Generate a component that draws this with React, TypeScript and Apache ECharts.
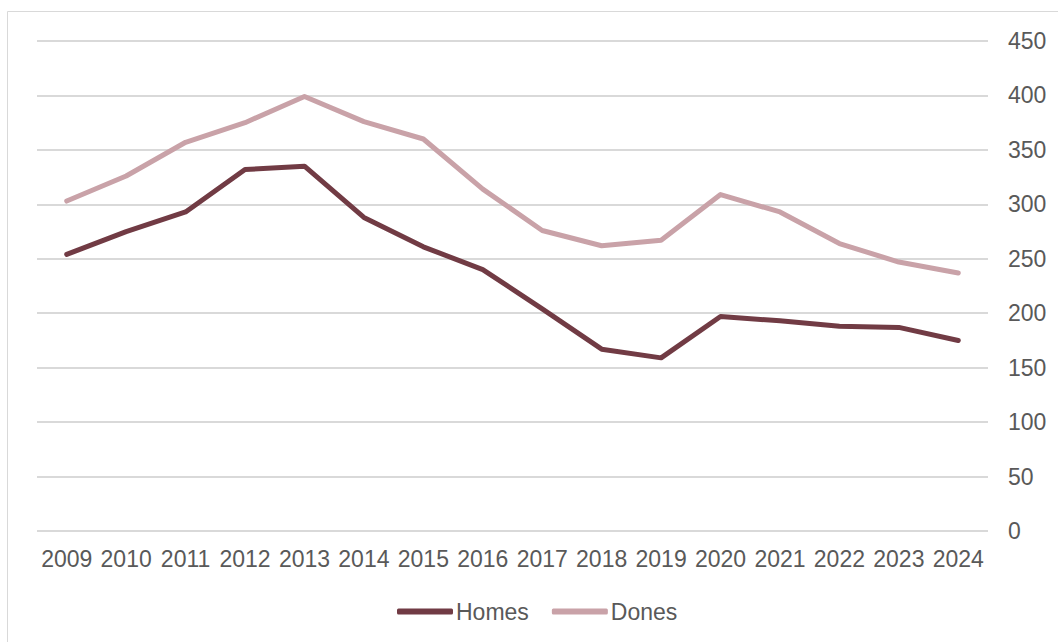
import React, { useEffect, useRef } from "react";
import * as echarts from "echarts";

const years = ["2009","2010","2011","2012","2013","2014","2015","2016","2017","2018","2019","2020","2021","2022","2023","2024"];
const homes = [254, 275, 293, 332, 335, 288, 261, 240, 204, 167, 159, 197, 193, 188, 187, 175];
const dones = [303, 326, 357, 375, 399, 376, 360, 314, 276, 262, 267, 309, 293, 264, 247, 237];
const yTicks = { min: 0, max: 450, interval: 50 };

const FONT = "'Liberation Sans', Arial, sans-serif";

export default function App() {
  const ref = useRef<HTMLDivElement>(null);
  useEffect(() => {
    if (!ref.current) return;
    const chart = echarts.init(ref.current, null, { renderer: "svg" });
    chart.setOption({
      animation: false,
      backgroundColor: "#ffffff",
      textStyle: { fontFamily: FONT },
      graphic: [
        {
          type: "rect",
          shape: { x: 7.5, y: 11.5, width: 1200, height: 800 },
          style: { fill: "none", stroke: "#D9D9D9", lineWidth: 1 },
          silent: true,
        },
      ],
      grid: { left: 37, right: 70, top: 41, bottom: 111 },
      legend: {
        top: 595,
        left: 392,
        itemWidth: 56,
        itemHeight: 6,
        itemGap: 23,
        icon: "roundRect",
        textStyle: { fontSize: 23, color: "#595959", fontFamily: FONT, padding: [0, 0, 0, -2] },
        data: ["Homes", "Dones"],
      },
      xAxis: {
        type: "category",
        data: years,
        boundaryGap: true,
        axisLine: { show: false },
        axisTick: { show: false },
        axisLabel: { fontSize: 23, color: "#595959", margin: 16, fontFamily: FONT, interval: 0 },
      },
      yAxis: {
        type: "value",
        position: "right",
        min: yTicks.min,
        max: yTicks.max,
        interval: yTicks.interval,
        axisLine: { show: false },
        axisTick: { show: false },
        splitLine: { lineStyle: { color: "#D9D9D9", width: 2 } },
        axisLabel: { fontSize: 23, color: "#595959", margin: 20, align: "left", fontFamily: FONT },
      },
      series: [
        {
          name: "Homes",
          type: "line",
          data: homes,
          symbol: "none",
          color: "#713B44",
          lineStyle: { width: 5, color: "#713B44", cap: "round", join: "round" },
        },
        {
          name: "Dones",
          type: "line",
          data: dones,
          symbol: "none",
          color: "#C9A2A8",
          lineStyle: { width: 5, color: "#C9A2A8", cap: "round", join: "round" },
        },
      ],
    });
    return () => chart.dispose();
  }, []);
  return (
    <div
      ref={ref}
      style={{ position: "fixed", left: 0, top: 0, width: 1058, height: 642 }}
    />
  );
}
